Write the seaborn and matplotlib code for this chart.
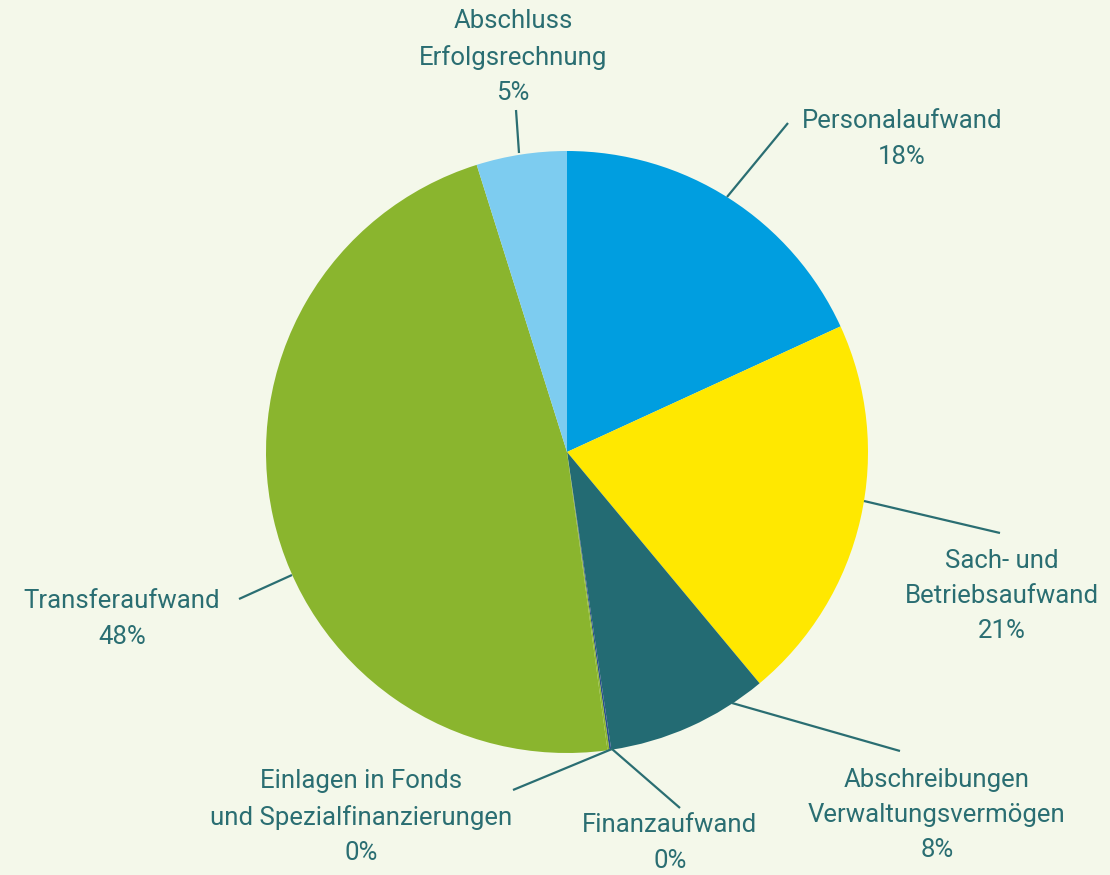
import matplotlib
matplotlib.use("Agg")
import matplotlib.pyplot as plt
import seaborn as sns

# data (shares in %, clockwise from 12 o'clock)
categories = [
    "Personalaufwand",
    "Sach- und\nBetriebsaufwand",
    "Abschreibungen\nVerwaltungsvermögen",
    "Finanzaufwand",
    "Einlagen in Fonds\nund Spezialfinanzierungen",
    "Transferaufwand",
    "Abschluss\nErfolgsrechnung",
]
shares = [18.15, 20.8, 8.7, 0.1, 0.1, 47.3, 4.85]
pct_labels = ["18%", "21%", "8%", "0%", "0%", "48%", "5%"]
colors = ["#009EE0", "#FFE800", "#236B73", "#2B4F8C", "#8AB52E", "#8AB52E", "#7DCCF0"]

W, H = 1110, 875
BG = "#F4F8EA"
TXT = "#2A6E72"

sns.set_theme(style="white")
plt.rcParams["font.family"] = ["Roboto", "DejaVu Sans"]

fig = plt.figure(figsize=(W / 100, H / 100), dpi=100, facecolor=BG)
ax = fig.add_axes([0, 0, 1, 1])
ax.set_facecolor(BG)

# pie in pixel units: centre (567, 452 from top), radius 301
ax.pie(shares, colors=colors, startangle=90, counterclock=False,
       center=(567, H - 452), radius=301, frame=True,
       wedgeprops=dict(linewidth=0))
ax.set_xlim(0, W)
ax.set_ylim(0, H)
ax.set_aspect("equal")
ax.axis("off")

# label layout: (line start, line end, text centre) in pixels from top-left
layout = [
    ((727, 197), (788, 123), (902, 139)),
    ((864, 501), (1000, 533), (1002, 596)),
    ((732, 703), (900, 751), (937, 815)),
    ((612, 749), (680, 808), (670, 843)),
    ((612, 749), (513, 790), (361, 817)),
    ((292, 575), (239, 599), (122, 619)),
    ((519, 153), (516, 110), (513, 57)),
]

for name, pct, (p0, p1, pt) in zip(categories, pct_labels, layout):
    ax.plot([p0[0], p1[0]], [H - p0[1], H - p1[1]], color=TXT, lw=1.6,
            solid_capstyle="butt")
    ax.text(pt[0], H - pt[1], f"{name}\n{pct}", ha="center", va="center",
            color=TXT, fontsize=18.5, linespacing=1.6)

fig.savefig("out.png", dpi=100, facecolor=BG)
